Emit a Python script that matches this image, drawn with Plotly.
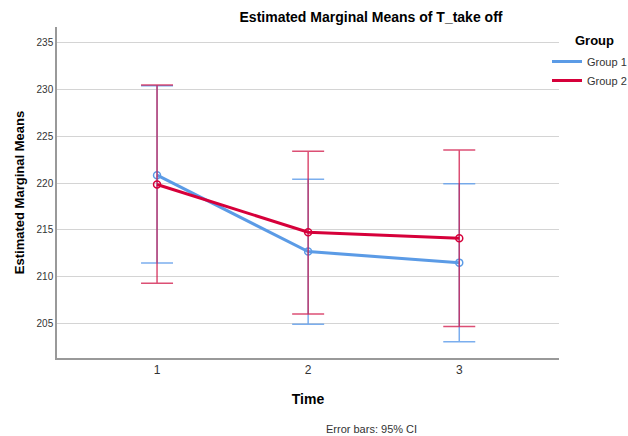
import plotly.graph_objects as go

times = [1, 2, 3]
tick_labels = ["1", "2", "3"]
groups = ["Group 1", "Group 2"]
g1_mean = [220.85, 212.68, 211.50]
g1_upper = [230.43, 220.43, 219.93]
g1_lower = [211.46, 204.90, 203.04]
g2_mean = [219.86, 214.75, 214.11]
g2_upper = [230.50, 223.40, 223.55]
g2_lower = [209.29, 206.00, 204.68]
y_ticks = [205, 210, 215, 220, 225, 230, 235]

FONT = "Liberation Sans, Arial, sans-serif"
colors = ["#5B9BE6", "#D6003A"]
err_colors = ["rgba(100,160,235,0.85)", "rgba(208,20,70,0.75)"]

fig = go.Figure()
for name, m, up, lo, c, ec in [
    (groups[0], g1_mean, g1_upper, g1_lower, colors[0], err_colors[0]),
    (groups[1], g2_mean, g2_upper, g2_lower, colors[1], err_colors[1]),
]:
    fig.add_trace(go.Scatter(
        x=times, y=m, name=name, mode="lines+markers", showlegend=False,
        line=dict(color=c, width=3),
        marker=dict(symbol="circle-open", size=7, color=c, line=dict(width=1.5)),
        error_y=dict(type="data", symmetric=False,
                     array=[u - v for u, v in zip(up, m)],
                     arrayminus=[v - l for v, l in zip(m, lo)],
                     color=ec, thickness=1.5, width=16),
    ))
for name, c in zip(groups, colors):
    fig.add_trace(go.Scatter(x=[None], y=[None], name=name, mode="lines",
                             line=dict(color=c, width=3), showlegend=True))

fig.update_layout(
    width=628, height=436,
    margin=dict(l=57, r=69, t=27, b=78, autoexpand=False),
    paper_bgcolor="white", plot_bgcolor="white",
    font=dict(family=FONT, color="#222"),
    title=dict(text="<b>Estimated Marginal Means of T_take off</b>",
               x=371 / 628, xanchor="center", y=1 - 17 / 436, yanchor="middle",
               font=dict(size=14, color="#000")),
    showlegend=True,
    legend=dict(x=(547 - 57) / 502, xanchor="left", y=1 - (47 - 27) / 331, yanchor="top",
                font=dict(size=11, color="#333"), itemwidth=30,
                bgcolor="rgba(0,0,0,0)", tracegroupgap=0),
    xaxis=dict(range=[0.338, 3.66], tickvals=times, ticktext=tick_labels,
               showgrid=False, zeroline=False,
               showline=True, linecolor="#999", linewidth=1.5,
               ticks="", tickfont=dict(size=12, color="#333"),
               title=dict(text="<b>Time</b>", font=dict(size=14, color="#000"), standoff=18)),
    yaxis=dict(range=[201.3, 236.7], tickvals=y_ticks,
               showgrid=True, gridcolor="#d4d4d4", gridwidth=1.2, zeroline=False,
               showline=True, linecolor="#999", linewidth=1.5,
               ticks="", tickfont=dict(size=10, color="#333"),
               title=dict(text="<b>Estimated Marginal Means</b>", font=dict(size=13, color="#000"), standoff=9)),
    annotations=[
        dict(text="<b>Group</b>", xref="paper", yref="paper",
             x=(573 - 57) / 502, y=1 - (40 - 27) / 331, xanchor="left", yanchor="middle",
             showarrow=False, font=dict(size=13, color="#000")),
        dict(text="Error bars: 95% CI", xref="paper", yref="paper",
             x=(371 - 57) / 502, y=-(429 - 358) / 331, xanchor="center", yanchor="middle",
             showarrow=False, font=dict(size=11, color="#333")),
    ],
)

fig.write_html("out.html", config={"displayModeBar": False},
               post_script="document.body.style.margin='0';document.body.style.overflow='hidden';")
